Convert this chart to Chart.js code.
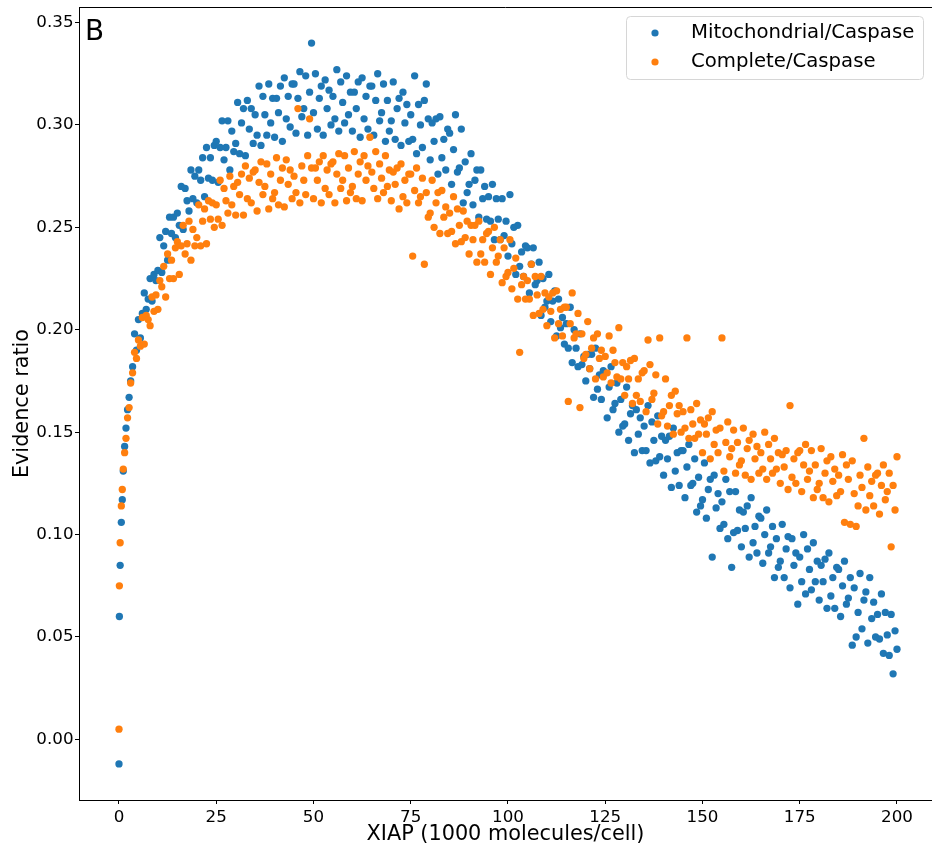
<!DOCTYPE html>
<html><head><meta charset="utf-8">
<script src="https://cdn.jsdelivr.net/npm/chart.js@4.4.1/dist/chart.umd.min.js"></script>
<style>
html,body{margin:0;padding:0;background:#fff;overflow:hidden;width:932px;height:851px}
#wrap{width:932px;height:851px;overflow:hidden;position:relative}
canvas{display:block}
</style></head>
<body><div id="wrap"><canvas id="c" width="932" height="851" style="width:932px;height:851px"></canvas></div>
<script>
const seriesNames = ['Mitochondrial/Caspase', 'Complete/Caspase'];
const seriesColors = ['#1f77b4', '#ff7f0e'];
const panelLabel = 'B';
const xTitle = 'XIAP (1000 molecules/cell)';
const yTitle = 'Evidence ratio';
const xTicks = [0, 25, 50, 75, 100, 125, 150, 175, 200];
const yTicks = [0, 0.05, 0.10, 0.15, 0.20, 0.25, 0.30, 0.35];

const xs = [0,0.1,0.3,0.6,0.85,1.1,1.45,1.8,2.2,2.6,3,3.5,4,4.5,
5,5.5,6,6.5,7,7.5,8,8.5,9,9.5,
10,10.5,11,11.5,12,12.5,13,13.5,14,14.5,
15,15.5,16,16.5,17,17.5,18,18.5,19,19.5,
20,20.5,21,21.5,22,22.5,23,23.5,24,24.5,
25,25.5,26,26.5,27,27.5,28,28.5,29,29.5,
30,30.5,31,31.5,32,32.5,33,33.5,34,34.5,
35,35.5,36,36.5,37,37.5,38,38.5,39,39.5,
40,40.5,41,41.5,42,42.5,43,43.5,44,44.5,
45,45.5,46,46.5,47,47.5,48,48.5,49,49.5,
50,50.5,51,51.5,52,52.5,53,53.5,54,54.5,
55,55.5,56,56.5,57,57.5,58,58.5,59,59.5,
60,60.5,61,61.5,62,62.5,63,63.5,64,64.5,
65,65.5,66,66.5,67,67.5,68,68.5,69,69.5,
70,70.5,71,71.5,72,72.5,73,73.5,74,74.5,
75,75.5,76,76.5,77,77.5,78,78.5,79,79.5,
80,80.5,81,81.5,82,82.5,83,83.5,84,84.5,
85,85.5,86,86.5,87,87.5,88,88.5,89,89.5,
90,90.5,91,91.5,92,92.5,93,93.5,94,94.5,
95,95.5,96,96.5,97,97.5,98,98.5,99,99.5,
100,100.5,101,101.5,102,102.5,103,103.5,104,104.5,
105,105.5,106,106.5,107,107.5,108,108.5,109,109.5,
110,110.5,111,111.5,112,112.5,113,113.5,114,114.5,
115,115.5,116,116.5,117,117.5,118,118.5,119,119.5,
120,120.5,121,121.5,122,122.5,123,123.5,124,124.5,
125,125.5,126,126.5,127,127.5,128,128.5,129,129.5,
130,130.5,131,131.5,132,132.5,133,133.5,134,134.5,
135,135.5,136,136.5,137,137.5,138,138.5,139,139.5,
140,140.5,141,141.5,142,142.5,143,143.5,144,144.5,
145,145.5,146,146.5,147,147.5,148,148.5,149,149.5,
150,150.5,151,151.5,152,152.5,153,153.5,154,154.5,
155,155.5,156,156.5,157,157.5,158,158.5,159,159.5,
160,160.5,161,161.5,162,162.5,163,163.5,164,164.5,
165,165.5,166,166.5,167,167.5,168,168.5,169,169.5,
170,170.5,171,171.5,172,172.5,173,173.5,174,174.5,
175,175.5,176,176.5,177,177.5,178,178.5,179,179.5,
180,180.5,181,181.5,182,182.5,183,183.5,184,184.5,
185,185.5,186,186.5,187,187.5,188,188.5,189,189.5,
190,190.5,191,191.5,192,192.5,193,193.5,194,194.5,
195,195.5,196,196.5,197,197.5,198,198.5,199,199.5,
200];

const mitoY = [-.012,.060,.085,.106,.117,.131,.143,.152,.161,.167,.175,.182,.198,.190,
.205,.196,.208,.218,.210,.215,.225,.214,.227,.224,
.229,.245,.228,.241,.248,.234,.255,.247,.255,.245,
.257,.251,.270,.249,.269,.263,.258,.278,.264,.275,
.262,.278,.273,.284,.265,.289,.274,.284,.273,.290,
.292,.272,.289,.302,.283,.289,.302,.278,.297,.287,
.291,.311,.286,.301,.308,.285,.312,.298,.308,.291,
.305,.295,.319,.290,.314,.305,.295,.320,.301,.313,
.294,.313,.306,.319,.292,.323,.303,.314,.299,.320,
.320,.296,.313,.326,.304,.308,.324,.295,.316,.340,
.306,.325,.298,.313,.319,.295,.322,.308,.317,.300,
.314,.303,.327,.297,.321,.311,.301,.324,.305,.316,
.297,.316,.308,.321,.294,.323,.303,.314,.298,.319,
.319,.295,.312,.325,.302,.306,.320,.292,.312,.297,
.302,.321,.293,.308,.313,.290,.316,.301,.310,.292,
.305,.293,.324,.286,.310,.300,.289,.312,.320,.303,
.283,.301,.292,.303,.276,.304,.284,.293,.278,.298,
.296,.271,.288,.305,.277,.279,.298,.262,.282,.267,
.271,.286,.261,.273,.278,.255,.278,.264,.270,.254,
.265,.253,.271,.244,.264,.254,.244,.264,.246,.253,
.236,.266,.242,.250,.227,.251,.231,.238,.226,.241,
.240,.218,.232,.240,.222,.224,.233,.207,.225,.211,
.214,.227,.204,.214,.219,.197,.215,.201,.206,.193,
.203,.191,.211,.184,.200,.191,.182,.198,.183,.187,
.175,.188,.181,.188,.167,.191,.171,.178,.166,.180,
.179,.157,.172,.182,.161,.164,.174,.150,.166,.153,
.154,.172,.146,.159,.163,.140,.161,.149,.157,.141,
.153,.141,.163,.135,.155,.146,.136,.158,.138,.148,
.129,.146,.137,.148,.123,.152,.131,.140,.124,.141,
.141,.118,.133,.144,.124,.125,.137,.111,.128,.114,
.117,.135,.108,.122,.127,.089,.129,.113,.120,.103,
.116,.105,.127,.098,.121,.084,.101,.121,.102,.112,
.094,.111,.103,.114,.089,.118,.096,.104,.091,.109,
.108,.086,.100,.112,.091,.094,.104,.079,.098,.084,
.087,.105,.079,.093,.099,.074,.098,.085,.091,.066,
.089,.077,.100,.071,.093,.083,.073,.096,.077,.087,
.068,.085,.077,.088,.064,.091,.070,.079,.064,.084,
.083,.060,.075,.087,.066,.069,.079,.046,.074,.050,
.062,.081,.054,.068,.072,.047,.079,.059,.067,.050,
.061,.049,.071,.042,.062,.051,.041,.061,.032,.053,
.044];

const completeY = [.005,.075,.096,.114,.122,.132,.140,.147,.157,.162,.174,.179,.189,.186,
.195,.192,.206,.193,.207,.205,.202,.216,.209,.217,
.210,.224,.221,.231,.216,.237,.225,.234,.225,.240,
.243,.227,.241,.251,.237,.242,.253,.234,.249,.241,
.245,.261,.241,.253,.259,.242,.263,.254,.262,.250,
.261,.254,.273,.251,.269,.263,.257,.275,.261,.270,
.256,.272,.266,.276,.256,.280,.264,.274,.262,.277,
.278,.258,.272,.282,.266,.270,.281,.259,.276,.264,
.267,.284,.261,.273,.279,.260,.283,.271,.278,.264,
.275,.267,.308,.262,.280,.273,.266,.285,.303,.279,
.264,.279,.273,.282,.262,.285,.269,.278,.266,.281,
.282,.262,.276,.286,.269,.273,.285,.263,.279,.267,
.270,.287,.264,.276,.282,.263,.285,.273,.280,.294,
.277,.269,.287,.264,.281,.274,.267,.285,.270,.278,
.263,.277,.271,.279,.259,.281,.265,.273,.262,.276,
.276,.236,.268,.279,.262,.265,.274,.232,.267,.255,
.257,.273,.250,.262,.267,.247,.268,.255,.260,.247,
.257,.248,.265,.242,.259,.251,.243,.258,.245,.253,
.237,.251,.244,.251,.233,.253,.237,.244,.233,.247,
.248,.227,.240,.250,.233,.236,.244,.223,.240,.226,
.228,.244,.220,.230,.235,.215,.189,.222,.226,.215,
.224,.215,.232,.207,.226,.217,.208,.226,.210,.218,
.202,.216,.209,.218,.196,.219,.203,.210,.197,.211,
.211,.165,.203,.218,.196,.198,.208,.162,.198,.186,
.188,.204,.181,.191,.196,.176,.198,.186,.190,.177,
.187,.179,.197,.174,.190,.184,.177,.201,.176,.184,
.168,.182,.176,.185,.164,.186,.168,.176,.165,.179,
.180,.160,.195,.183,.166,.169,.178,.154,.196,.158,
.160,.176,.153,.163,.168,.149,.170,.159,.163,.150,
.160,.152,.196,.147,.161,.154,.147,.164,.149,.156,
.140,.154,.149,.157,.137,.160,.144,.151,.140,.152,
.196,.131,.145,.155,.138,.142,.151,.130,.145,.134,
.136,.152,.129,.142,.146,.127,.149,.137,.143,.130,
.140,.132,.150,.127,.144,.137,.130,.147,.132,.140,
.125,.139,.133,.141,.122,.163,.128,.137,.125,.140,
.141,.121,.134,.144,.127,.131,.141,.118,.134,.122,
.125,.142,.118,.130,.136,.116,.138,.126,.132,.119,
.129,.121,.139,.106,.134,.127,.105,.136,.120,.104,
.114,.129,.123,.147,.112,.133,.119,.126,.114,.129,
.130,.110,.124,.134,.117,.121,.130,.094,.124,.112,
.138];

const FONT = 'DejaVu Sans';

function toPoints(ys) { return xs.map((x, i) => ({ x: x, y: ys[i] })); }

function zeroPad(s) { s.paddingLeft = 0; s.paddingRight = 0; s.paddingTop = 0; s.paddingBottom = 0; }

const framePlugin = {
  id: 'frameAndLegend',
  afterDraw(chart) {
    const ctx = chart.ctx;
    const a = chart.chartArea;
    ctx.save();
    ctx.strokeStyle = '#000';
    ctx.lineWidth = 1;
    const t = Math.round(a.top) + 0.5;
    ctx.beginPath();
    ctx.moveTo(Math.round(a.left), t); ctx.lineTo(chart.width, t);
    ctx.stroke();
    // panel label
    ctx.fillStyle = '#000';
    ctx.font = '27.8px "' + FONT + '"';
    ctx.textAlign = 'left';
    ctx.textBaseline = 'alphabetic';
    ctx.fillText(panelLabel, 85, 40);
    // legend
    const bx = 626.5, by = 16.5, bw = 297, bh = 63, rad = 4;
    ctx.beginPath();
    ctx.moveTo(bx + rad, by);
    ctx.lineTo(bx + bw - rad, by); ctx.arcTo(bx + bw, by, bx + bw, by + rad, rad);
    ctx.lineTo(bx + bw, by + bh - rad); ctx.arcTo(bx + bw, by + bh, bx + bw - rad, by + bh, rad);
    ctx.lineTo(bx + rad, by + bh); ctx.arcTo(bx, by + bh, bx, by + bh - rad, rad);
    ctx.lineTo(bx, by + rad); ctx.arcTo(bx, by, bx + rad, by, rad);
    ctx.closePath();
    ctx.fillStyle = 'rgba(255,255,255,0.8)';
    ctx.fill();
    ctx.strokeStyle = '#d6d6d6';
    ctx.stroke();
    ctx.font = '19.7px "' + FONT + '"';
    ctx.textBaseline = 'middle';
    chart.data.datasets.forEach((ds, i) => {
      const cy = 33 + i * 29;
      ctx.fillStyle = ds.backgroundColor;
      ctx.beginPath(); ctx.arc(655, cy, 3.6, 0, Math.PI * 2); ctx.fill();
      ctx.fillStyle = '#000';
      ctx.fillText(ds.label, 691, cy);
    });
    ctx.restore();
  }
};

new Chart(document.getElementById('c'), {
  type: 'scatter',
  data: {
    datasets: [
      { label: seriesNames[0], data: toPoints(mitoY), backgroundColor: seriesColors[0], borderColor: seriesColors[0],
        pointRadius: 3.65, pointHoverRadius: 3.65, borderWidth: 0, order: 1 },
      { label: seriesNames[1], data: toPoints(completeY), backgroundColor: seriesColors[1], borderColor: seriesColors[1],
        pointRadius: 3.65, pointHoverRadius: 3.65, borderWidth: 0, order: 0 }
    ]
  },
  options: {
    responsive: false,
    animation: false,
    devicePixelRatio: 1,
    layout: { autoPadding: false, padding: { top: 7, right: 0, left: 0, bottom: 0 } },
    plugins: { legend: { display: false }, tooltip: { enabled: false } },
    scales: {
      x: {
        type: 'linear', min: -10.28, max: 209.0,
        afterBuildTicks: s => { s.ticks = xTicks.map(v => ({ value: v })); },
        afterFit: s => { s.height = 51; zeroPad(s); },
        grid: { drawOnChartArea: false, drawTicks: true, tickLength: 4, tickColor: '#000', color: '#000' },
        border: { display: true, color: '#000', width: 1 },
        ticks: { color: '#000', font: { family: FONT, size: 16.7 }, padding: 4, maxRotation: 0, autoSkip: false,
                 callback: v => String(v) },
        title: { display: true, text: xTitle, color: '#000', font: { family: FONT, size: 20.8 }, padding: { top: 0, bottom: 4 } }
      },
      y: {
        type: 'linear', min: -0.0296, max: 0.3576,
        afterBuildTicks: s => { s.ticks = yTicks.map(v => ({ value: v })); },
        afterFit: s => { s.width = 79; zeroPad(s); },
        grid: { drawOnChartArea: false, drawTicks: true, tickLength: 4, tickColor: '#000', color: '#000' },
        border: { display: true, color: '#000', width: 1 },
        ticks: { color: '#000', font: { family: FONT, size: 16.7 }, padding: 1.5, autoSkip: false,
                 callback: v => Number(v).toFixed(2) },
        title: { display: true, text: yTitle, color: '#000', font: { family: FONT, size: 20.8 }, padding: { top: 10.5, bottom: 0 } }
      }
    }
  },
  plugins: [framePlugin]
});
</script>
</body></html>
